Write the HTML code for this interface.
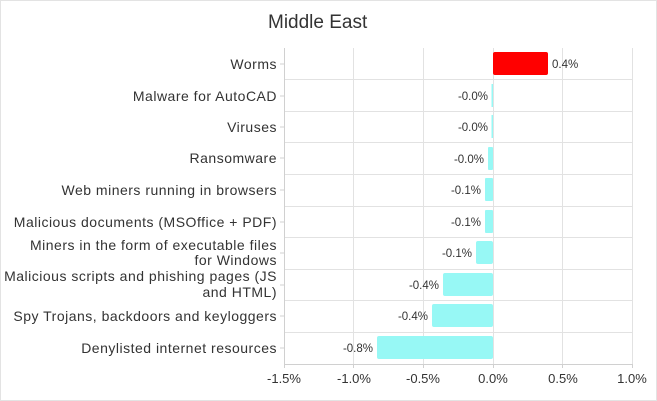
<!DOCTYPE html>
<html><head><meta charset="utf-8"><style>
html,body{margin:0;padding:0;background:#fff}
svg{display:block}
text{font-family:"Liberation Sans",sans-serif;fill:#333}
</style></head><body>
<svg width="657" height="401" viewBox="0 0 657 401" xmlns="http://www.w3.org/2000/svg">
<rect x="0.5" y="0.5" width="656" height="400" fill="#fff" stroke="#e3e3e3"/>
<text x="268" y="28" font-size="19" fill="#222">Middle East</text>
<g stroke="#e2e2e2" stroke-width="1">
<line x1="353.5" y1="48" x2="353.5" y2="364"/>
<line x1="423.5" y1="48" x2="423.5" y2="364"/>
<line x1="493.5" y1="48" x2="493.5" y2="364"/>
<line x1="562.5" y1="48" x2="562.5" y2="364"/>
<line x1="632.5" y1="48" x2="632.5" y2="364"/>
<line x1="284" y1="79.5" x2="632" y2="79.5"/>
<line x1="284" y1="111.5" x2="632" y2="111.5"/>
<line x1="284" y1="142.5" x2="632" y2="142.5"/>
<line x1="284" y1="174.5" x2="632" y2="174.5"/>
<line x1="284" y1="206.5" x2="632" y2="206.5"/>
<line x1="284" y1="237.5" x2="632" y2="237.5"/>
<line x1="284" y1="269.5" x2="632" y2="269.5"/>
<line x1="284" y1="300.5" x2="632" y2="300.5"/>
<line x1="284" y1="332.5" x2="632" y2="332.5"/>
</g>
<g stroke="#d0d0d0">
<line x1="284.5" y1="48" x2="284.5" y2="364"/>
<line x1="284" y1="364.5" x2="632" y2="364.5"/>
<g>
<line x1="280" y1="64" x2="284" y2="64"/><line x1="280" y1="96" x2="284" y2="96"/>
<line x1="280" y1="127" x2="284" y2="127"/><line x1="280" y1="158" x2="284" y2="158"/>
<line x1="280" y1="190" x2="284" y2="190"/><line x1="280" y1="222" x2="284" y2="222"/>
<line x1="280" y1="253" x2="284" y2="253"/><line x1="280" y1="285" x2="284" y2="285"/>
<line x1="280" y1="316" x2="284" y2="316"/><line x1="280" y1="348" x2="284" y2="348"/>
<line x1="284.5" y1="364" x2="284.5" y2="368"/><line x1="353.5" y1="364" x2="353.5" y2="368"/>
<line x1="423.5" y1="364" x2="423.5" y2="368"/><line x1="493.5" y1="364" x2="493.5" y2="368"/>
<line x1="562.5" y1="364" x2="562.5" y2="368"/><line x1="632.5" y1="364" x2="632.5" y2="368"/>
</g>
</g>
<rect x="493" y="52" width="55" height="23" rx="2" fill="#ff0000"/>
<g fill="#97f8f5">
<rect x="491.5" y="84" width="1.5" height="23"/>
<rect x="491.5" y="115" width="1.5" height="23"/>
<rect x="488" y="147" width="5" height="23" rx="1"/>
<rect x="485" y="178" width="8" height="23" rx="1"/>
<rect x="485" y="210" width="8" height="23" rx="1"/>
<rect x="476" y="241" width="17" height="23" rx="2"/>
<rect x="443" y="273" width="50" height="23" rx="2"/>
<rect x="432" y="304" width="61" height="23" rx="2"/>
<rect x="377" y="336" width="116" height="23" rx="2"/>
</g>
<g font-size="11.5">
<text x="552" y="68">0.4%</text>
<g text-anchor="end">
<text x="488" y="100">-0.0%</text>
<text x="488" y="131">-0.0%</text>
<text x="484" y="163">-0.0%</text>
<text x="481" y="194">-0.1%</text>
<text x="481" y="226">-0.1%</text>
<text x="472" y="257">-0.1%</text>
<text x="439" y="289">-0.4%</text>
<text x="428" y="320">-0.4%</text>
<text x="373" y="352">-0.8%</text>
</g></g>
<g font-size="14" letter-spacing="0.5" text-anchor="end">
<text x="277" y="69">Worms</text>
<text x="277" y="101">Malware for AutoCAD</text>
<text x="277" y="132">Viruses</text>
<text x="277" y="163">Ransomware</text>
<text x="277" y="195">Web miners running in browsers</text>
<text x="277" y="227">Malicious documents (MSOffice + PDF)</text>
<text x="277" y="250">Miners in the form of executable files</text>
<text x="277" y="265">for Windows</text>
<text x="277" y="281">Malicious scripts and phishing pages (JS</text>
<text x="277" y="297">and HTML)</text>
<text x="277" y="321">Spy Trojans, backdoors and keyloggers</text>
<text x="277" y="353">Denylisted internet resources</text>
</g>
<g font-size="13" text-anchor="middle">
<text x="284" y="383">-1.5%</text>
<text x="354" y="383">-1.0%</text>
<text x="423" y="383">-0.5%</text>
<text x="493" y="383">0.0%</text>
<text x="563" y="383">0.5%</text>
<text x="632" y="383">1.0%</text>
</g>
</svg>
</body></html>
